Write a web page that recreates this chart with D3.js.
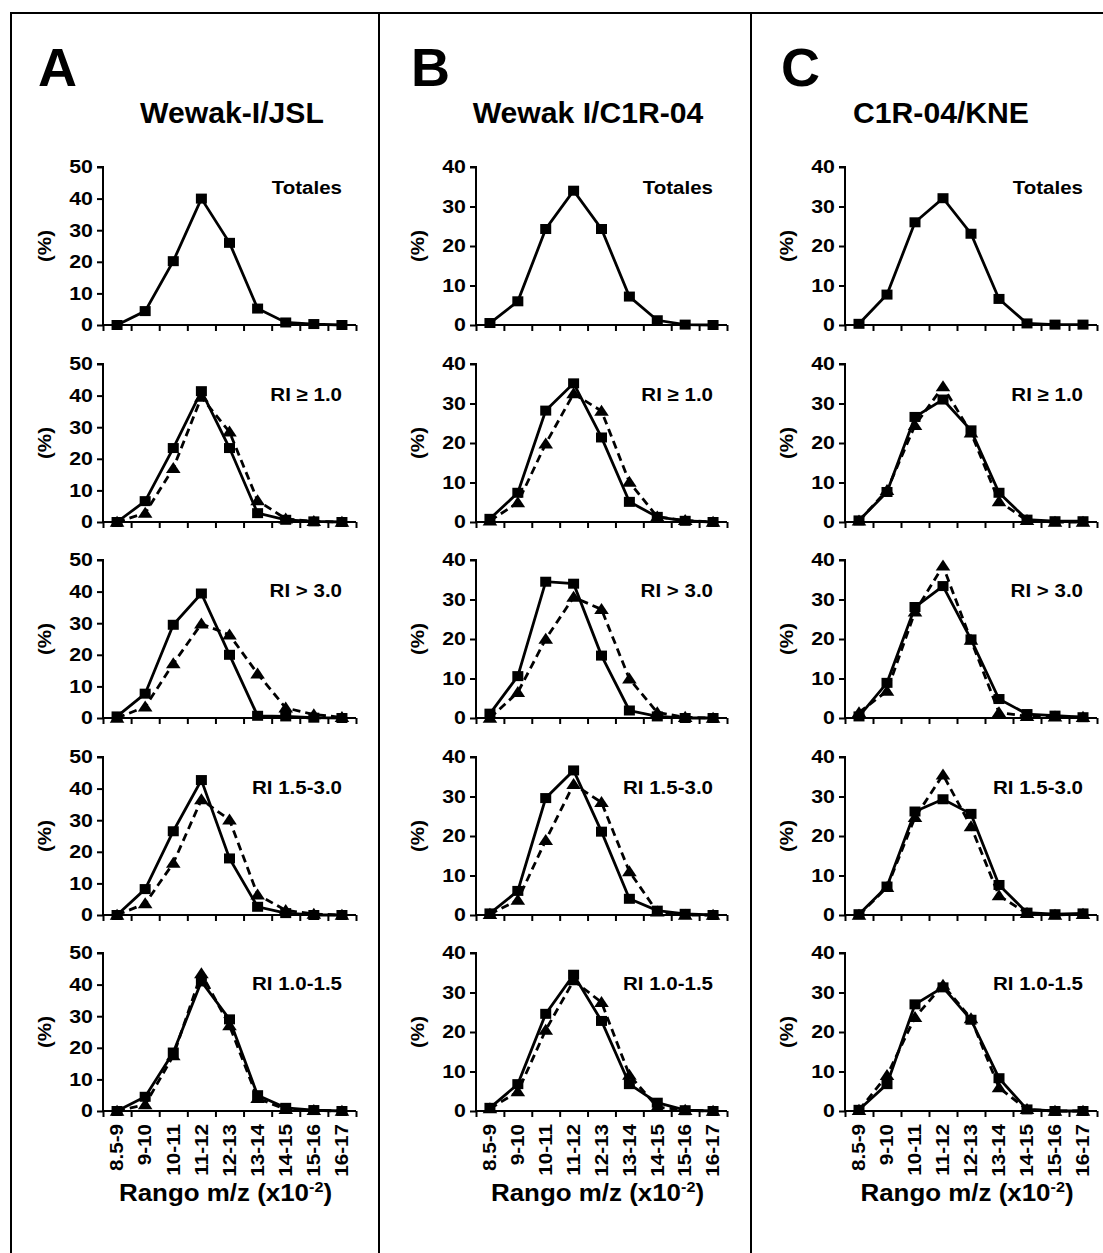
<!DOCTYPE html>
<html>
<head>
<meta charset="utf-8">
<script src="https://cdn.jsdelivr.net/npm/d3@7"></script>
<style>
  html, body { margin: 0; padding: 0; background: #fff; }
  svg { display: block; }
  text { font-family: "Liberation Sans", Arial, sans-serif; font-weight: bold; fill: #000; }
</style>
</head>
<body>
<svg id="chart" width="1103" height="1253"></svg>
<script>
// ---------------- DATA ----------------
const categories = ["8.5-9","9-10","10-11","11-12","12-13","13-14","14-15","15-16","16-17"];
const panelLetters = ["A","B","C"];
const columnTitles = ["Wewak-I/JSL","Wewak I/C1R-04","C1R-04/KNE"];
const yMaxByColumn = [50,40,40];
const yTicksByColumn = [[0,10,20,30,40,50],[0,10,20,30,40],[0,10,20,30,40]];
const rowLabels = ["Totales","RI \u2265 1.0","RI > 3.0","RI 1.5-3.0","RI 1.0-1.5"];
const xAxisTitle = "Rango m/z (x10";
const xAxisSup = "-2";
const yAxisTitle = "(%)";

// Column A (Wewak-I/JSL): squares = solid line, triangles = dashed line
const A_totales_sq  = [0, 4.4, 20.2, 40, 26, 5.2, 0.8, 0.3, 0];
const A_ri10_sq     = [0, 6.6, 23.4, 41.4, 23.4, 2.8, 0.7, 0.2, 0];
const A_ri10_tri    = [0, 2.8, 17, 39.5, 28.5, 6.8, 1, 0.2, 0];
const A_ri30_sq     = [0.5, 7.7, 29.5, 39.4, 20, 0.7, 0.5, 0.1, 0];
const A_ri30_tri    = [0, 3.5, 17.2, 29.8, 26.3, 14, 3.2, 1.1, 0.2];
const A_ri153_sq    = [0, 8.2, 26.5, 42.7, 17.9, 2.6, 0.6, 0, 0];
const A_ri153_tri   = [0, 3.6, 16.4, 36.5, 30.1, 6.4, 1.5, 0.3, 0];
const A_ri1015_sq   = [0, 4.5, 18.5, 41, 29, 5, 1, 0.3, 0];
const A_ri1015_tri  = [0, 2, 17.5, 43.5, 27, 4, 0.5, 0.2, 0];

// Column B (Wewak I/C1R-04)
const B_totales_sq  = [0.5, 6, 24.3, 34, 24.3, 7.2, 1.2, 0.1, 0];
const B_ri10_sq     = [0.8, 7.4, 28.2, 35.1, 21.4, 5.1, 1.3, 0.3, 0];
const B_ri10_tri    = [0.3, 4.9, 19.8, 32.5, 28.1, 10.1, 1.3, 0.4, 0];
const B_ri30_sq     = [1.1, 10.6, 34.5, 34, 15.8, 1.9, 0.4, 0, 0];
const B_ri30_tri    = [0, 6.5, 20, 30.6, 27.5, 9.9, 1.4, 0.2, 0];
const B_ri153_sq    = [0.4, 6.1, 29.6, 36.6, 21.1, 4.1, 1.1, 0.3, 0];
const B_ri153_tri   = [0.2, 3.8, 18.9, 33.1, 28.5, 11, 0.8, 0, 0];
const B_ri1015_sq   = [0.8, 6.8, 24.6, 34.5, 22.8, 6.8, 2.1, 0.2, 0];
const B_ri1015_tri  = [0.6, 4.9, 20.5, 33, 27.5, 9.1, 1, 0.2, 0];

// Column C (C1R-04/KNE)
const C_totales_sq  = [0.3, 7.7, 26, 32.1, 23.1, 6.6, 0.4, 0.1, 0.1];
const C_ri10_sq     = [0.4, 7.6, 26.6, 31, 23.2, 7.4, 0.6, 0.2, 0.2];
const C_ri10_tri    = [0.3, 8, 24.5, 34.3, 22.6, 5.2, 0.4, 0, 0];
const C_ri30_sq     = [0.4, 8.9, 28.1, 33.4, 19.9, 4.8, 1, 0.6, 0.2];
const C_ri30_tri    = [1.4, 6.8, 26.9, 38.5, 19.7, 1.4, 0.4, 0.3, 0.2];
const C_ri153_sq    = [0.2, 7.2, 26.2, 29.3, 25.6, 7.6, 0.6, 0.2, 0.4];
const C_ri153_tri   = [0, 7, 24.7, 35.5, 22.4, 4.9, 0.4, 0, 0.2];
const C_ri1015_sq   = [0.3, 6.8, 27, 31.3, 23.1, 8.3, 0.4, 0, 0];
const C_ri1015_tri  = [0.2, 9, 23.7, 31.9, 23.4, 5.9, 0.4, 0, 0];

// panels: [column][row] -> {sq, tri}
const panelSeries = [
  [ {sq:A_totales_sq}, {sq:A_ri10_sq, tri:A_ri10_tri}, {sq:A_ri30_sq, tri:A_ri30_tri}, {sq:A_ri153_sq, tri:A_ri153_tri}, {sq:A_ri1015_sq, tri:A_ri1015_tri} ],
  [ {sq:B_totales_sq}, {sq:B_ri10_sq, tri:B_ri10_tri}, {sq:B_ri30_sq, tri:B_ri30_tri}, {sq:B_ri153_sq, tri:B_ri153_tri}, {sq:B_ri1015_sq, tri:B_ri1015_tri} ],
  [ {sq:C_totales_sq}, {sq:C_ri10_sq, tri:C_ri10_tri}, {sq:C_ri30_sq, tri:C_ri30_tri}, {sq:C_ri153_sq, tri:C_ri153_tri}, {sq:C_ri1015_sq, tri:C_ri1015_tri} ]
];

// ---------------- LAYOUT ----------------
const colAxisX = [[103,356],[476,727],[845,1097]];
const colTitleX = [232, 588, 941];
const colLetterX = [38, 411, 781];
const rowTop = [167, 364, 560, 757, 953];
const plotH = 158;
const labelOffset = [27, 37, 37, 37, 37];

const svg = d3.select("#chart");

function sText(parent, x, y, str, opt) {
  const o = Object.assign({size:16, sx:1.2, rotate:0, anchor:"middle", dy:null}, opt||{});
  const t = parent.append("text")
    .attr("transform", `translate(${x},${y}) rotate(${o.rotate}) scale(${o.sx},1)`)
    .attr("text-anchor", o.anchor)
    .style("font-size", o.size + "px");
  if (o.dy) t.attr("dy", o.dy);
  t.text(str);
  return t;
}

// Frame
svg.append("path")
  .attr("d", "M11,1253 L11,13 L1103,13")
  .attr("fill","none").attr("stroke","#000").attr("stroke-width",2);
[379, 751].forEach(x => {
  svg.append("line").attr("x1",x).attr("x2",x).attr("y1",13).attr("y2",1253)
    .attr("stroke","#000").attr("stroke-width",2);
});

const line = d3.line();
const sqSize = 10;
const tri = d3.symbol().type(d3.symbolTriangle).size(70);

panelLetters.forEach((letter, c) => {
  // Big letter
  sText(svg, colLetterX[c], 86, letter, {size:54, sx:1.0, anchor:"start"});
  // Title
  sText(svg, colTitleX[c], 123, columnTitles[c], {size:29, sx:1.04});

  const [x0, x1] = colAxisX[c];
  const xBand = d3.scaleBand().domain(categories).range([x0, x1]).padding(0);
  const cx = d => xBand(d) + xBand.bandwidth()/2;

  rowLabels.forEach((lab, r) => {
    const top = rowTop[r];
    const bottom = top + plotH;
    const y = d3.scaleLinear().domain([0, yMaxByColumn[c]]).range([bottom, top]);
    const g = svg.append("g");

    // y axis
    const yAxis = d3.axisLeft(y).tickValues(yTicksByColumn[c]).tickSize(6).tickFormat("");
    const ya = g.append("g").attr("transform", `translate(${x0},0)`).call(yAxis);
    ya.selectAll("path,line").attr("stroke","#000").attr("stroke-width",2);
    ya.select(".domain").attr("d", `M-6,${top}H0V${bottom}`);
    yTicksByColumn[c].forEach(v => {
      sText(g, x0 - 10, y(v), String(v), {size:17.5, sx:1.22, anchor:"end", dy:"0.36em"});
    });

    // x axis (ticks at category boundaries)
    const edges = categories.map(d => xBand(d)).concat([x1]);
    const xLin = d3.scaleLinear().domain([0,1]).range([0,1]);
    const xAxis = d3.axisBottom(xLin).tickValues(edges).tickSize(6).tickSizeOuter(0).tickFormat("");
    const xa = g.append("g").attr("transform", `translate(0,${bottom})`).call(xAxis);
    xa.selectAll("path,line").attr("stroke","#000").attr("stroke-width",2);
    xa.select(".domain").attr("d", `M${x0},0H${x1}`);

    // y title
    sText(g, x0 - 58, (top + bottom)/2, yAxisTitle, {size:17.5, sx:1.18, rotate:-90, dy:"0.36em"});

    // panel label
    sText(g, x1 - 14, top + labelOffset[r], lab, {size:19, sx:1.08, anchor:"end"});

    const s = panelSeries[c][r];
    // dashed triangles series
    if (s.tri) {
      const pts = s.tri.map((v,i) => [cx(categories[i]), y(v)]);
      g.append("path").attr("d", line(pts)).attr("fill","none")
        .attr("stroke","#000").attr("stroke-width",2.8).attr("stroke-dasharray","8,5");
      g.selectAll(null).data(s.tri).enter().append("path")
        .attr("d", tri)
        .attr("transform", (v,i) => `translate(${cx(categories[i])},${y(v)+1}) scale(1.15,1)`)
        .attr("fill","#000");
    }
    // solid squares series
    const pts2 = s.sq.map((v,i) => [cx(categories[i]), y(v)]);
    g.append("path").attr("d", line(pts2)).attr("fill","none")
      .attr("stroke","#000").attr("stroke-width",2.8);
    g.selectAll(null).data(s.sq).enter().append("rect")
      .attr("x", (v,i) => cx(categories[i]) - sqSize/2 - 0.5)
      .attr("y", v => y(v) - sqSize/2)
      .attr("width", sqSize + 1).attr("height", sqSize)
      .attr("fill","#000");

    // category labels on last row
    if (r === rowLabels.length - 1) {
      categories.forEach(cat => {
        sText(g, cx(cat), bottom + 13, cat, {size:17.5, sx:1.18, rotate:-90, anchor:"end", dy:"0.36em"});
      });
      const t = sText(g, (x0 + x1)/2 - 4, 1201, "", {size:24, sx:1.08});
      t.append("tspan").text(xAxisTitle);
      t.append("tspan").text(xAxisSup).attr("dy","-9").style("font-size","15px");
      t.append("tspan").text(")").attr("dy","9");
    }
  });
});
</script>
</body>
</html>
